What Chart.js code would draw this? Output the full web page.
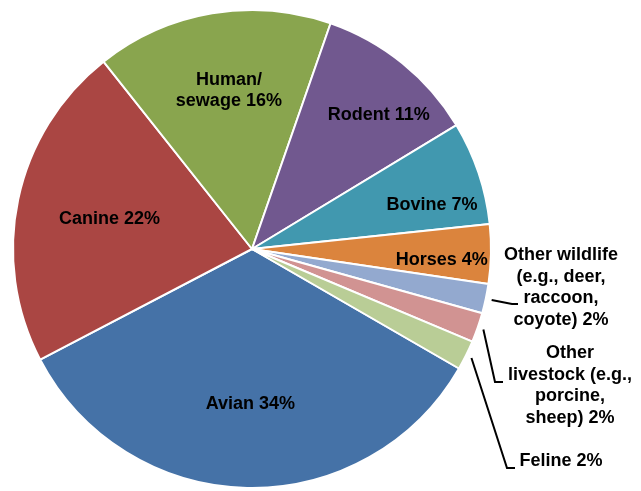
<!DOCTYPE html>
<html>
<head>
<meta charset="utf-8">
<script src="https://cdn.jsdelivr.net/npm/chart.js@4/dist/chart.umd.min.js"></script>
<style>
  html, body { margin: 0; padding: 0; background: #ffffff; }
  #wrap { width: 641px; height: 491px; }
</style>
</head>
<body>
<div id="wrap"><canvas id="c" width="641" height="491"></canvas></div>
<script>
// ---- data ----
const categories = ['Avian', 'Canine', 'Human/sewage', 'Rodent', 'Bovine', 'Horses',
  'Other wildlife (e.g., deer, raccoon, coyote)', 'Other livestock (e.g., porcine, sheep)', 'Feline'];
const shares = [34, 22, 16, 11, 7, 4, 2, 2, 2];
const labelLines = [
  ['Avian 34%'],
  ['Canine 22%'],
  ['Human/', 'sewage 16%'],
  ['Rodent 11%'],
  ['Bovine 7%'],
  ['Horses 4%'],
  ['Other wildlife', '(e.g., deer,', 'raccoon,', 'coyote) 2%'],
  ['Other', 'livestock (e.g.,', 'porcine,', 'sheep) 2%'],
  ['Feline 2%']
];
const colours = ['#4572A7', '#AA4643', '#89A54E', '#71588F', '#4198AF', '#DB843D', '#93A9CF', '#D19392', '#B9CD96'];

// ---- label layout (not data) ----
const insideLabels = {
  0: { rf: 0.65, da: -0.6 },
  1: { rf: 0.61, da: 0 },
  2: { rf: 0.67, da: 1.3 },
  3: { rf: 0.77, da: 4.5 },
  4: { rf: 0.775, da: 4.9 },
  5: { rf: 0.795, da: 2.1 }
};
const outsideLabels = {
  6: { tx: 309, ty: 38.5, elbow: [260, 55], endLen: 6 },
  7: { tx: 318, ty: 136.5, elbow: [243, 133], endLen: 8 },
  8: { tx: 309, ty: 212.5, elbow: [255, 219], endLen: 8 }
};
const LINE_H = 21.5;
const FONT = 'bold 18px "Liberation Sans", Arial, sans-serif';

const labelPlugin = {
  id: 'sliceLabels',
  afterDatasetsDraw(chart) {
    const ctx = chart.ctx;
    const meta = chart.getDatasetMeta(0);
    ctx.save();
    ctx.font = FONT;
    ctx.fillStyle = '#000000';
    ctx.textAlign = 'center';
    ctx.textBaseline = 'middle';
    meta.data.forEach((arc, i) => {
      const p = arc.getProps(['x', 'y', 'startAngle', 'endAngle', 'outerRadius'], true);
      const cx = p.x, cy = p.y, R = p.outerRadius;
      const mid = (p.startAngle + p.endAngle) / 2;
      const lines = labelLines[i];
      if (insideLabels[i]) {
        const o = insideLabels[i];
        const a = mid + o.da * Math.PI / 180;
        const lx = cx + R * o.rf * Math.cos(a);
        const ly = cy + R * o.rf * Math.sin(a);
        const y0 = ly - (lines.length - 1) * LINE_H / 2;
        lines.forEach((t, k) => ctx.fillText(t, lx, y0 + k * LINE_H));
      } else if (outsideLabels[i]) {
        const o = outsideLabels[i];
        const lx = cx + o.tx, ly = cy + o.ty;
        const y0 = ly - (lines.length - 1) * LINE_H / 2;
        lines.forEach((t, k) => ctx.fillText(t, lx, y0 + k * LINE_H));
        const sx = cx + (R + 6) * Math.cos(mid);
        const sy = cy + (R + 6) * Math.sin(mid);
        const ex = cx + o.elbow[0], ey = cy + o.elbow[1];
        ctx.beginPath();
        ctx.strokeStyle = '#000000';
        ctx.lineWidth = 2;
        ctx.lineJoin = 'miter';
        ctx.moveTo(sx, sy);
        ctx.lineTo(ex, ey);
        ctx.lineTo(ex + o.endLen, ey);
        ctx.stroke();
      }
    });
    ctx.restore();
  }
};

new Chart(document.getElementById('c'), {
  type: 'pie',
  data: {
    labels: categories,
    datasets: [{
      data: shares,
      backgroundColor: colours,
      borderColor: '#ffffff',
      borderWidth: 2
    }]
  },
  options: {
    responsive: false,
    animation: false,
    rotation: 120,
    layout: { padding: { left: 12, right: 149, top: 9, bottom: 2 } },
    plugins: {
      legend: { display: false },
      tooltip: { enabled: false }
    }
  },
  plugins: [labelPlugin]
});
</script>
</body>
</html>
